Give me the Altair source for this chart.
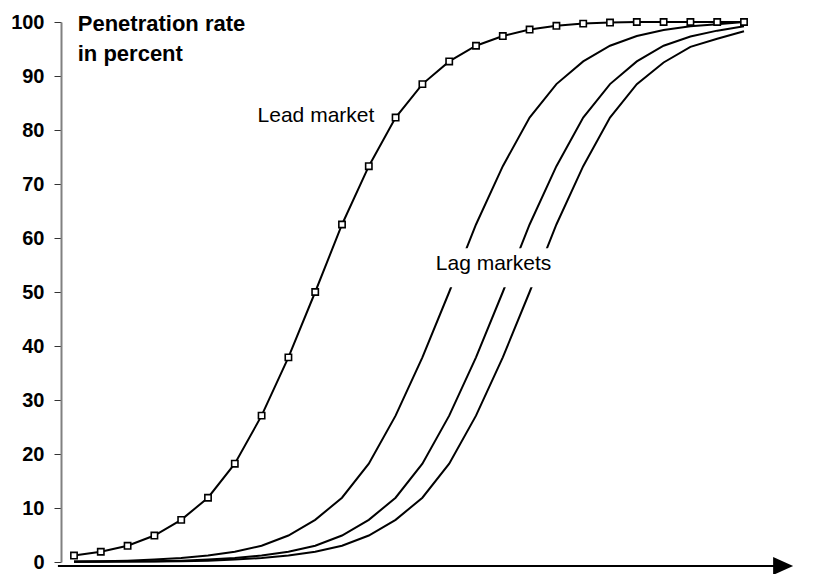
import altair as alt
import pandas as pd

# time steps (26 observation points)
steps = list(range(26))

lead = [1.2, 1.9, 3.0, 4.9, 7.8, 11.9, 18.2, 27.1, 37.9, 50.0, 62.5, 73.3, 82.3,
        88.5, 92.7, 95.6, 97.4, 98.6, 99.3, 99.7, 99.9, 100, 100, 100, 100, 100]
lag1 = [0.1, 0.15, 0.25, 0.45, 0.75, 1.2, 1.9, 3.0, 4.9, 7.8, 11.9, 18.2, 27.1,
        37.9, 50.0, 62.5, 73.3, 82.3, 88.5, 92.7, 95.6, 97.4, 98.5, 99.2, 99.6, 100]
lag2 = [0.05, 0.07, 0.1, 0.15, 0.25, 0.45, 0.75, 1.2, 1.9, 3.0, 4.9, 7.8, 11.9,
        18.2, 27.1, 37.9, 50.0, 62.5, 73.3, 82.3, 88.5, 92.7, 95.6, 97.3, 98.4, 99.2]
lag3 = [0.03, 0.05, 0.07, 0.1, 0.15, 0.25, 0.45, 0.75, 1.2, 1.9, 3.0, 4.9, 7.8,
        11.9, 18.2, 27.1, 37.9, 50.0, 62.5, 73.3, 82.3, 88.5, 92.5, 95.4, 96.9, 98.3]

y_ticks = [0, 10, 20, 30, 40, 50, 60, 70, 80, 90, 100]

title_lines = ["Penetration rate", "in percent"]
title_x = [0.14, 0.14]
title_y = [98.3, 92.7]

labels = ["Lead market", "Lag markets"]
labels_x = [6.85, 13.5]
labels_y = [81.4, 54.0]

# white box behind "Lag markets"
box = pd.DataFrame({"x": [13.2], "x2": [18.3], "y": [50.9], "y2": [58.1]})

# time axis arrow
arrow_line = pd.DataFrame({"x": [-0.6], "x2": [26.2], "y": [-0.74]})
arrow_head = pd.DataFrame({"x": [26.46], "y": [-0.74]})

lag_df = pd.DataFrame({
    "step": steps * 3,
    "value": lag1 + lag2 + lag3,
    "series": ["lag1"] * 26 + ["lag2"] * 26 + ["lag3"] * 26,
})
lead_df = pd.DataFrame({"step": steps, "value": lead})
title_df = pd.DataFrame({"t": title_lines, "x": title_x, "y": title_y})
label_df = pd.DataFrame({"t": labels, "x": labels_x, "y": labels_y})

FONT = "Liberation Sans"
xs = alt.Scale(domain=[-0.485, 26.828], nice=False, zero=False)
ys = alt.Scale(domain=[0, 100], nice=False, zero=False)

X = alt.X("step:Q", scale=xs, axis=None)
Y = alt.Y("value:Q", scale=ys, axis=alt.Axis(
    values=y_ticks, title=None, grid=False, labelFont=FONT, labelFontSize=20,
    labelFontWeight="bold", labelColor="black", labelPadding=10, tickSize=7,
    tickColor="#333333", tickWidth=1, domainColor="#808080", domainWidth=2))

lag_lines = alt.Chart(lag_df).mark_line(color="black", strokeWidth=2).encode(
    x=X, y=Y, detail="series:N")

box_layer = alt.Chart(box).mark_rect(color="white").encode(
    x=alt.X("x:Q", scale=xs, axis=None), x2="x2:Q",
    y=alt.Y("y:Q", scale=ys), y2="y2:Q")

lead_line = alt.Chart(lead_df).mark_line(color="black", strokeWidth=2).encode(x=X, y=Y)
lead_pts = alt.Chart(lead_df).mark_point(
    shape="square", size=40, filled=True, fill="white", stroke="black",
    strokeWidth=1.6, opacity=1).encode(x=X, y=Y)

title_layer = alt.Chart(title_df).mark_text(
    font=FONT, fontSize=22, fontWeight="bold", align="left",
    baseline="alphabetic", color="black").encode(
    x=alt.X("x:Q", scale=xs, axis=None), y=alt.Y("y:Q", scale=ys), text="t:N")

label_layer = alt.Chart(label_df).mark_text(
    font=FONT, fontSize=21, align="left", baseline="alphabetic",
    color="black").encode(
    x=alt.X("x:Q", scale=xs, axis=None), y=alt.Y("y:Q", scale=ys), text="t:N")

arrow_rule = alt.Chart(arrow_line).mark_rule(color="black", strokeWidth=2).encode(
    x=alt.X("x:Q", scale=xs, axis=None), x2="x2:Q", y=alt.Y("y:Q", scale=ys))
arrow_tip = alt.Chart(arrow_head).mark_point(
    shape="M-1,-0.9L1,0L-1,0.9Z", size=400, filled=True, color="black",
    opacity=1, strokeWidth=0).encode(
    x=alt.X("x:Q", scale=xs, axis=None), y=alt.Y("y:Q", scale=ys))

chart = alt.layer(
    lag_lines, box_layer, label_layer, lead_line, lead_pts, title_layer,
    arrow_rule, arrow_tip
).properties(
    width=732, height=540,
    autosize=alt.AutoSizeParams(type="none"),
    padding={"left": 53, "top": 14, "right": 16, "bottom": 12},
    background="white",
).configure_view(stroke=None)

chart.save("out.html", embed_options={"renderer": "svg", "actions": False})
